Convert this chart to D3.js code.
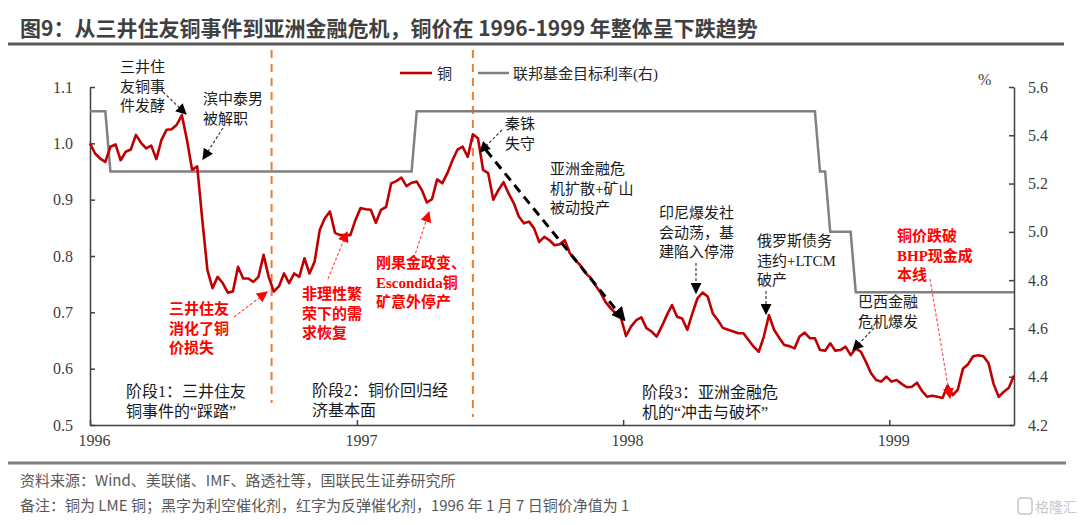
<!DOCTYPE html>
<html>
  <head>
    <meta charset="UTF-8" />
    <script src="https://cdn.jsdelivr.net/npm/d3@7"></script>
    <title>铜价与联邦基金目标利率</title>
    <style type="text/css">
      body { margin: 0; background: #ffffff; }
      svg text { font-family: "Liberation Serif", "Noto Sans CJK SC", serif; }
    </style>
  </head>
  <body>
    <div id="chartcontainer"></div>
    <script>
      // weekly LME copper (net value), first week = 1996-01-01
      var copperStart = "1996-01-01";
      var copperValues = [
        1.000, 0.982, 0.973, 0.967, 0.994, 0.998, 0.970, 0.985, 0.989, 1.015,
        1.001, 0.991, 0.996, 0.972, 1.006, 1.024, 1.025, 1.033, 1.050, 1.006,
        0.953, 0.959, 0.864, 0.775, 0.743, 0.763, 0.752, 0.735, 0.737, 0.781,
        0.760, 0.760, 0.754, 0.763, 0.802, 0.763, 0.737, 0.746, 0.769, 0.752,
        0.769, 0.763, 0.796, 0.769, 0.790, 0.846, 0.867, 0.879, 0.841, 0.837,
        0.837, 0.837, 0.864, 0.885, 0.883, 0.882, 0.859, 0.882, 0.887, 0.929,
        0.933, 0.939, 0.924, 0.930, 0.932, 0.917, 0.895, 0.901, 0.936, 0.929,
        0.947, 0.970, 0.989, 0.994, 0.976, 1.016, 1.009, 0.953, 0.947, 0.900,
        0.917, 0.931, 0.911, 0.894, 0.870, 0.858, 0.861, 0.849, 0.825, 0.834,
        0.828, 0.819, 0.821, 0.828, 0.805, 0.793, 0.784, 0.770, 0.762, 0.748,
        0.735, 0.718, 0.707, 0.698, 0.690, 0.658, 0.675, 0.686, 0.691, 0.672,
        0.666, 0.657, 0.675, 0.695, 0.713, 0.692, 0.689, 0.669, 0.698, 0.725,
        0.735, 0.728, 0.698, 0.686, 0.672, 0.669, 0.666, 0.663, 0.663, 0.651,
        0.639, 0.630, 0.657, 0.695, 0.669, 0.655, 0.642, 0.640, 0.636, 0.657,
        0.664, 0.654, 0.654, 0.633, 0.632, 0.645, 0.632, 0.633, 0.639, 0.624,
        0.636, 0.630, 0.612, 0.592, 0.580, 0.577, 0.586, 0.577, 0.580, 0.573,
        0.567, 0.568, 0.575, 0.560, 0.550, 0.552, 0.550, 0.548, 0.570, 0.553,
        0.563, 0.600, 0.608, 0.622, 0.624, 0.622, 0.610, 0.573, 0.550, 0.559,
        0.566, 0.588
      ];

      // fed funds target rate (right axis), weekly points around each change
      var fedDates = [
        "1996-01-01", "1996-01-22", "1996-01-29", "1997-03-17", "1997-03-24",
        "1998-09-21", "1998-09-28", "1998-10-05", "1998-10-12", "1998-11-09",
        "1998-11-16", "1999-06-21"
      ];
      var fedRates = [5.5, 5.5, 5.25, 5.25, 5.5, 5.5, 5.25, 5.25, 5.0, 5.0, 4.75, 4.75];

      var yearTicks = [1996, 1997, 1998, 1999];
      var leftTicks = [0.5, 0.6, 0.7, 0.8, 0.9, 1.0, 1.1];
      var rightTicks = [4.2, 4.4, 4.6, 4.8, 5.0, 5.2, 5.4, 5.6];
      var phaseBreaks = ["1996-09-06", "1997-06-09"];
      var trendFrom = ["1997-06-27", 0.988];
      var trendTo = ["1998-01-03", 0.686];

      var parseDate = d3.timeParse("%Y-%m-%d");
      var start = parseDate(copperStart);
      var copper = copperValues.map(function (v, i) {
        return { date: d3.timeDay.offset(start, 7 * i), value: v };
      });
      var fed = fedDates.map(function (d, i) {
        return { date: parseDate(d), value: fedRates[i] };
      });

      var W = 1080, H = 525;
      var margin = { top: 87, right: 66, bottom: 100, left: 90 },
        width = W - margin.left - margin.right,
        height = H - margin.top - margin.bottom;

      var root = d3
        .select("#chartcontainer")
        .append("svg")
        .attr("width", W)
        .attr("height", H)
        .style("background", "#ffffff");

      // defs: arrow heads
      var defs = root.append("defs");
      function marker(id, color, size) {
        defs
          .append("marker")
          .attr("id", id)
          .attr("viewBox", "0 0 10 10")
          .attr("refX", 9)
          .attr("refY", 5)
          .attr("markerUnits", "userSpaceOnUse")
          .attr("markerWidth", size)
          .attr("markerHeight", size)
          .attr("orient", "auto")
          .append("path")
          .attr("d", "M0,0 L10,5 L0,10 z")
          .attr("fill", color);
      }
      marker("arrowBlack", "#000000", 11);
      marker("arrowRed", "#ff0000", 11);
      marker("arrowBig", "#000000", 14);

      // title + rules
      root
        .append("text")
        .attr("x", 20)
        .attr("y", 36)
        .style("font-family", "'Noto Sans CJK SC', sans-serif")
        .style("font-weight", "700")
        .style("font-size", "21px")
        .attr("fill", "#404040")
        .text("图9：从三井住友铜事件到亚洲金融危机，铜价在 1996-1999 年整体呈下跌趋势");
      root.append("line").attr("x1", 8).attr("x2", 1064).attr("y1", 44).attr("y2", 44)
        .attr("stroke", "#595959").attr("stroke-width", 3);
      root.append("line").attr("x1", 8).attr("x2", 1066).attr("y1", 463).attr("y2", 463)
        .attr("stroke", "#7f7f7f").attr("stroke-width", 3);

      var svg = root
        .append("g")
        .attr("transform", "translate(" + margin.left + "," + margin.top + ")");

      // scales
      var x = d3
        .scaleTime()
        .domain([start, copper[copper.length - 1].date])
        .range([0, width]);
      var y = d3.scaleLinear().domain([0.5, 1.1]).range([height, 0]);
      var y1 = d3.scaleLinear().domain([4.2, 5.6]).range([height, 0]);

      // phase separators (orange dashed)
      svg
        .selectAll(".phase")
        .data(phaseBreaks)
        .enter()
        .append("line")
        .attr("x1", function (d) { return x(parseDate(d)); })
        .attr("x2", function (d) { return x(parseDate(d)); })
        .attr("y1", -37)
        .attr("y2", function (d, i) { return i === 0 ? height - 22 : height - 8; })
        .attr("stroke", "#ed7d31")
        .attr("stroke-width", 2)
        .attr("stroke-dasharray", "8,6");

      // axes
      var axisColor = "#404040";
      var gx = svg
        .append("g")
        .attr("transform", "translate(0," + height + ")")
        .call(
          d3.axisBottom(x)
            .tickValues(yearTicks.map(function (yr) { return new Date(yr, 0, 1); }))
            .tickFormat(d3.timeFormat("%Y"))
            .tickSizeInner(-5)
            .tickSizeOuter(0)
            .tickPadding(10)
        );
      var gy = svg
        .append("g")
        .call(
          d3.axisLeft(y)
            .tickValues(leftTicks)
            .tickFormat(d3.format(".1f"))
            .tickSizeInner(-5)
            .tickSizeOuter(0)
            .tickPadding(17)
        );
      var gy1 = svg
        .append("g")
        .attr("transform", "translate(" + width + ",0)")
        .call(
          d3.axisRight(y1)
            .tickValues(rightTicks)
            .tickFormat(d3.format(".1f"))
            .tickSizeInner(-5)
            .tickSizeOuter(0)
            .tickPadding(14)
        );
      [gx, gy, gy1].forEach(function (g) {
        g.selectAll("path,line").attr("stroke", axisColor).attr("stroke-width", 1.5);
        g.selectAll("text")
          .attr("fill", "#404040")
          .style("font-family", "'Liberation Serif', serif")
          .style("font-size", "16px");
      });
      // year labels sit a little right of their tick, as in the source
      gx.selectAll("text").attr("dx", 4);

      svg
        .append("text")
        .attr("x", width - 36)
        .attr("y", -2)
        .attr("fill", "#404040")
        .style("font-size", "16px")
        .text("%");

      // fed funds line
      svg
        .append("path")
        .datum(fed)
        .attr("fill", "none")
        .attr("stroke", "#808080")
        .attr("stroke-width", 2.5)
        .attr(
          "d",
          d3.line()
            .x(function (d) { return x(d.date); })
            .y(function (d) { return y1(d.value); })
        );

      // copper line
      svg
        .append("path")
        .datum(copper)
        .attr("fill", "none")
        .attr("stroke", "#c00000")
        .attr("stroke-width", 2.6)
        .attr("stroke-linejoin", "round")
        .attr(
          "d",
          d3.line()
            .x(function (d) { return x(d.date); })
            .y(function (d) { return y(d.value); })
        );

      // trend arrow after the baht fell
      svg
        .append("line")
        .attr("x1", x(parseDate(trendFrom[0])))
        .attr("y1", y(trendFrom[1]))
        .attr("x2", x(parseDate(trendTo[0])))
        .attr("y2", y(trendTo[1]))
        .attr("stroke", "#000000")
        .attr("stroke-width", 3)
        .attr("stroke-dasharray", "9,6")
        .attr("marker-end", "url(#arrowBig)");

      // legend
      var legend = root.append("g");
      legend.append("line").attr("x1", 400).attr("x2", 432).attr("y1", 73).attr("y2", 73)
        .attr("stroke", "#c00000").attr("stroke-width", 2.6);
      legend.append("text").attr("x", 437).attr("y", 79).style("font-size", "15px")
        .attr("fill", "#262626").text("铜");
      legend.append("line").attr("x1", 478).attr("x2", 509).attr("y1", 73).attr("y2", 73)
        .attr("stroke", "#808080").attr("stroke-width", 2.5);
      legend.append("text").attr("x", 513).attr("y", 79).style("font-size", "15px")
        .attr("fill", "#262626").text("联邦基金目标利率(右)");

      // annotations (page coords for text placement)
      var notes = [
        { lines: ["三井住", "友铜事", "件发酵"], x: 120, y: 72, red: false, arrow: [163, 92, 186, 114] },
        { lines: ["滨中泰男", "被解职"], x: 203, y: 104, red: false, arrow: [223, 128, 203, 159] },
        { lines: ["秦铢", "失守"], x: 505, y: 129, red: false, arrow: [502, 130, 480, 152] },
        { lines: ["亚洲金融危", "机扩散+矿山", "被动投产"], x: 550, y: 174, red: false },
        { lines: ["印尼爆发社", "会动荡，基", "建陷入停滞"], x: 659, y: 218, red: false, arrow: [696, 263, 696, 293] },
        { lines: ["俄罗斯债务", "违约+LTCM", "破产"], x: 757, y: 246, red: false, arrow: [766, 291, 766, 314] },
        { lines: ["巴西金融", "危机爆发"], x: 858, y: 307, red: false, arrow: [874, 328, 853, 350] },
        { lines: ["三井住友", "消化了铜", "价损失"], x: 169, y: 314, red: true, arrow: [234, 317, 267, 292] },
        { lines: ["非理性繁", "荣下的需", "求恢复"], x: 302, y: 299, red: true, arrow: [328, 279, 347, 232] },
        { lines: ["刚果金政变、", "Escondida铜", "矿意外停产"], x: 376, y: 268, red: true, arrow: [414, 258, 429, 212] },
        { lines: ["铜价跌破", "BHP现金成", "本线"], x: 897, y: 241, red: true, arrow: [930, 279, 950, 398] },
        { lines: ["阶段1：三井住友", "铜事件的“踩踏”"], x: 126, y: 397, red: false, big: true },
        { lines: ["阶段2：铜价回归经", "济基本面"], x: 312, y: 396, red: false, big: true },
        { lines: ["阶段3：亚洲金融危", "机的“冲击与破坏”"], x: 642, y: 398, red: false, big: true }
      ];

      var noteG = root.append("g");
      notes.forEach(function (n) {
        if (n.arrow) {
          noteG
            .append("line")
            .attr("x1", n.arrow[0])
            .attr("y1", n.arrow[1])
            .attr("x2", n.arrow[2])
            .attr("y2", n.arrow[3])
            .attr("stroke", n.red ? "#ff5050" : "#404040")
            .attr("stroke-width", 1.2)
            .attr("stroke-dasharray", "3,2")
            .attr("marker-end", n.red ? "url(#arrowRed)" : "url(#arrowBlack)");
        }
        var t = noteG
          .append("text")
          .attr("fill", n.red ? "#ff0000" : "#1a1a1a")
          .style("font-size", n.big ? "16px" : "15px")
          .style("font-weight", n.red ? "700" : "400");
        n.lines.forEach(function (s, i) {
          t.append("tspan")
            .attr("x", n.x)
            .attr("y", n.y + i * (n.big ? 20 : 19.5))
            .text(s);
        });
      });

      // source + note
      var foot = root.append("g")
        .style("font-size", "15px")
        .attr("fill", "#595959");
      foot.append("text").attr("x", 20).attr("y", 486)
        .style("font-family", "'Noto Sans CJK SC', sans-serif")
        .text("资料来源：Wind、美联储、IMF、路透社等，国联民生证券研究所");
      foot.append("text").attr("x", 20).attr("y", 511)
        .style("font-family", "'Noto Sans CJK SC', sans-serif")
        .text("备注：铜为 LME 铜；黑字为利空催化剂，红字为反弹催化剂，1996 年 1 月 7 日铜价净值为 1");
      foot.append("rect").attr("x", 1018).attr("y", 498).attr("width", 14).attr("height", 16)
        .attr("rx", 3).attr("fill", "none").attr("stroke", "#c8c8c8").attr("stroke-width", 1.5);
      foot.append("text").attr("x", 1035).attr("y", 512)
        .style("font-family", "'Noto Sans CJK SC', sans-serif")
        .style("font-size", "14px")
        .attr("fill", "#c8c8c8").text("格隆汇");
    </script>
  </body>
</html>
